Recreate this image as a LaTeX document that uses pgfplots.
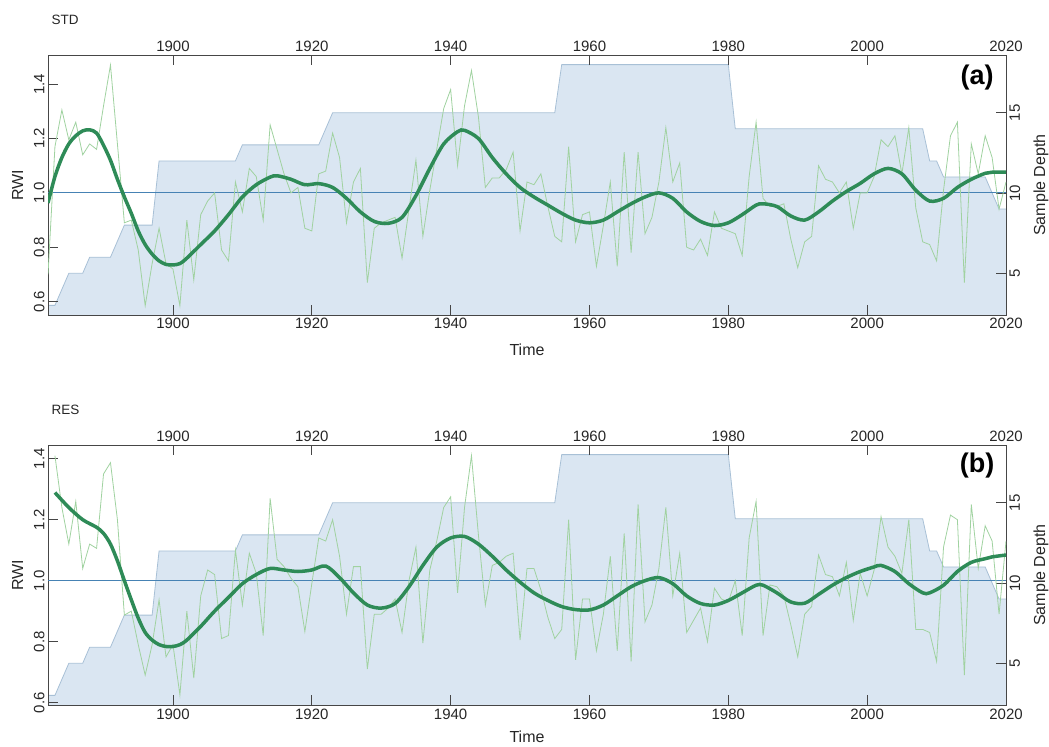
\documentclass[border=0pt]{standalone}
\usepackage{fontspec}
\setmainfont{Liberation Sans}
\usepackage{pgfplots}
\usepackage{pgfplotstable}
\pgfplotsset{compat=1.18}

\definecolor{depthfill}{RGB}{218,230,242}
\definecolor{depthline}{RGB}{168,192,214}
\definecolor{thingreen}{RGB}{160,210,160}
\definecolor{thickgreen}{RGB}{46,139,87}
\definecolor{refline}{RGB}{70,130,180}
\definecolor{frame}{RGB}{70,70,70}

\pgfplotstableread{
year depth
1882 3
1883 3
1884 4
1885 5
1886 5
1887 5
1888 6
1889 6
1890 6
1891 6
1892 7
1893 8
1894 8
1895 8
1896 8
1897 8
1898 12
1909 12
1910 13
1921 13
1922 14
1923 15
1955 15
1956 18
1980 18
1981 14
2008 14
2009 12
2010 12
2011 11
2017 11
2018 10
2019 9
2020 9
}\depthdata

\pgfplotstableread{
year rwi
1882 0.70
1883 1.17
1884 1.305
1885 1.195
1886 1.26
1887 1.14
1888 1.18
1889 1.16
1890 1.32
1891 1.47
1892 1.18
1893 0.89
1894 0.90
1895 0.79
1896 0.585
1897 0.74
1898 0.87
1899 0.74
1900 0.72
1901 0.585
1902 0.90
1903 0.68
1904 0.92
1905 0.97
1906 1.00
1907 0.79
1908 0.75
1909 1.04
1910 0.93
1911 1.09
1912 1.06
1913 0.90
1914 1.25
1915 1.16
1916 1.07
1917 1.00
1918 1.02
1919 0.87
1920 0.86
1921 1.07
1922 1.08
1923 1.22
1924 1.13
1925 0.89
1926 1.04
1927 1.09
1928 0.67
1929 0.87
1930 0.89
1931 0.90
1932 0.91
1933 0.76
1934 0.94
1935 1.12
1936 0.84
1937 1.01
1938 1.16
1939 1.31
1940 1.38
1941 1.10
1942 1.32
1943 1.45
1944 1.28
1945 1.02
1946 1.055
1947 1.055
1948 1.085
1949 1.15
1950 0.86
1951 1.04
1952 1.03
1953 1.07
1954 0.95
1955 0.84
1956 0.82
1957 1.17
1958 0.82
1959 0.92
1960 0.93
1961 0.73
1962 0.88
1963 1.04
1964 0.73
1965 1.15
1966 0.78
1967 1.15
1968 0.85
1969 0.91
1970 1.04
1971 1.24
1972 1.04
1973 1.11
1974 0.80
1975 0.79
1976 0.83
1977 0.77
1978 0.93
1979 0.87
1980 0.86
1981 0.85
1982 0.77
1983 1.06
1984 1.26
1985 0.98
1986 0.95
1987 0.95
1988 0.96
1989 0.83
1990 0.725
1991 0.82
1992 0.84
1993 1.10
1994 1.05
1995 1.04
1996 1.00
1997 1.04
1998 0.87
1999 1.00
2000 1.00
2001 1.06
2002 1.195
2003 1.17
2004 1.21
2005 1.07
2006 1.24
2007 0.945
2008 0.82
2009 0.81
2010 0.75
2011 1.01
2012 1.21
2013 1.26
2014 0.67
2015 1.18
2016 1.07
2017 1.21
2018 1.13
2019 0.94
2020 1.04
}\stdraw

\pgfplotstableread{
year rwi
1882 0.963
1883 1.06
1884 1.13
1885 1.18
1886 1.21
1887 1.228
1888 1.232
1889 1.22
1890 1.175
1891 1.12
1892 1.05
1893 0.985
1894 0.925
1895 0.86
1896 0.81
1897 0.775
1898 0.75
1899 0.737
1900 0.735
1901 0.74
1902 0.76
1904 0.81
1906 0.86
1908 0.92
1910 0.985
1912 1.03
1914 1.058
1915 1.063
1917 1.05
1919 1.03
1921 1.034
1923 1.02
1925 0.98
1927 0.93
1929 0.895
1931 0.888
1933 0.91
1935 0.99
1937 1.09
1939 1.18
1941 1.225
1942 1.23
1944 1.20
1946 1.13
1948 1.07
1950 1.02
1952 0.985
1954 0.955
1956 0.925
1958 0.90
1960 0.89
1962 0.90
1964 0.93
1966 0.96
1968 0.985
1970 1.0
1972 0.98
1974 0.93
1976 0.895
1978 0.88
1980 0.89
1982 0.92
1984 0.955
1985 0.96
1987 0.95
1989 0.915
1991 0.90
1993 0.93
1995 0.97
1997 1.005
1999 1.035
2001 1.07
2003 1.09
2005 1.07
2007 1.01
2009 0.97
2011 0.98
2013 1.02
2015 1.05
2017 1.072
2018 1.076
2020 1.076
}\stdspline

\pgfplotstableread{
year rwi
1883 1.41
1884 1.24
1885 1.12
1886 1.26
1887 1.04
1888 1.12
1889 1.106
1890 1.35
1891 1.387
1892 1.20
1893 0.887
1894 0.90
1895 0.79
1896 0.69
1897 0.79
1898 0.937
1899 0.75
1900 0.79
1901 0.625
1902 0.90
1903 0.68
1904 0.95
1905 1.035
1906 1.02
1907 0.81
1908 0.82
1909 1.10
1910 0.92
1911 1.09
1912 1.024
1913 0.82
1914 1.27
1915 1.07
1916 1.046
1917 1.008
1918 0.98
1919 0.833
1920 0.99
1921 1.14
1922 1.13
1923 1.20
1924 1.08
1925 0.89
1926 1.046
1927 1.046
1928 0.71
1929 0.89
1930 0.89
1931 0.91
1932 0.94
1933 0.83
1934 1.00
1935 1.11
1936 0.795
1937 1.035
1938 1.13
1939 1.24
1940 1.275
1941 0.96
1942 1.24
1943 1.41
1944 1.15
1945 0.92
1946 1.05
1947 1.06
1948 1.08
1949 1.09
1950 0.805
1951 1.04
1952 1.04
1953 0.97
1954 0.88
1955 0.81
1956 0.84
1957 1.20
1958 0.74
1959 0.94
1960 0.94
1961 0.77
1962 0.89
1963 1.08
1964 0.77
1965 1.155
1966 0.735
1967 1.25
1968 0.865
1969 0.92
1970 1.04
1971 1.24
1972 0.95
1973 1.09
1974 0.83
1975 0.87
1976 0.91
1977 0.80
1978 0.975
1979 0.94
1980 0.93
1981 1.00
1982 0.82
1983 1.14
1984 1.26
1985 0.82
1986 0.986
1987 0.98
1988 0.95
1989 0.855
1990 0.75
1991 0.89
1992 0.915
1993 1.084
1994 1.02
1995 1.013
1996 0.95
1997 1.06
1998 0.87
1999 1.024
2000 0.95
2001 1.035
2002 1.21
2003 1.11
2004 1.08
2005 1.024
2006 1.20
2007 0.84
2008 0.84
2009 0.83
2010 0.735
2011 1.11
2012 1.215
2013 1.20
2014 0.69
2015 1.25
2016 1.04
2017 1.18
2018 1.13
2019 0.89
2020 1.13
}\resraw

\pgfplotstableread{
year rwi
1883 1.289
1885 1.24
1887 1.20
1889 1.175
1890 1.155
1891 1.12
1892 1.065
1893 1.00
1894 0.937
1895 0.877
1896 0.83
1897 0.805
1898 0.79
1899 0.784
1900 0.784
1901 0.79
1902 0.805
1904 0.85
1906 0.90
1908 0.945
1910 0.99
1912 1.02
1914 1.04
1916 1.035
1918 1.03
1920 1.035
1922 1.048
1924 1.01
1926 0.96
1928 0.92
1930 0.91
1932 0.925
1934 0.98
1936 1.05
1938 1.11
1940 1.14
1942 1.145
1944 1.12
1946 1.08
1948 1.035
1950 0.995
1952 0.96
1954 0.935
1956 0.915
1958 0.905
1960 0.904
1962 0.92
1964 0.95
1966 0.98
1968 1.0
1970 1.01
1972 0.99
1974 0.95
1976 0.925
1978 0.92
1980 0.935
1982 0.96
1984 0.985
1985 0.985
1987 0.96
1989 0.93
1991 0.926
1993 0.955
1995 0.985
1997 1.01
1999 1.03
2001 1.045
2002 1.05
2004 1.03
2006 0.99
2008 0.96
2009 0.96
2011 0.985
2013 1.03
2015 1.06
2017 1.072
2018 1.078
2020 1.084
}\resspline

\pgfplotsset{
  base/.style={
    scale only axis, width=958bp, height=260bp,
    xmin=1882, xmax=2020,
    tick align=inside, major tick length=10bp,
    axis line style={draw=frame, line width=0.9bp},
    tick style={draw=frame, line width=0.9bp},
    xtick={1900,1920,1940,1960,1980,2000,2020},
    ticklabel style={font=\fontsize{15bp}{18bp}\selectfont, text=black!85},
    label style={font=\fontsize{16bp}{19bp}\selectfont, text=black!85},
    /pgf/number format/assume math mode=true,
    /pgf/number format/1000 sep={},
  },
  depthax/.style={
    base, ymin=2.4, ymax=18.6, axis on top,
    xtick pos=right, xticklabel pos=right,
    ytick pos=right, yticklabel pos=right, ytick={5,10,15},
    yticklabel style={rotate=90, anchor=north},
    xticklabel style={anchor=south},
    ylabel={Sample Depth},
    ylabel style={at={(axis description cs:1.0365,0.5)}, anchor=center},
  },
  rwiax/.style={
    base,
    xtick pos=left, xticklabel pos=left,
    ytick pos=left, yticklabel pos=left,
    ytick={0.6,0.8,1.0,1.2,1.4},
    yticklabel style={rotate=90, anchor=south,
      /pgf/number format/fixed, /pgf/number format/fixed zerofill,
      /pgf/number format/precision=1},
    xticklabel style={anchor=north},
    xlabel={Time},
    ylabel={RWI},
    ylabel style={at={(axis description cs:-0.0318,0.5)}, anchor=center},
  },
}

\begin{document}
\begin{tikzpicture}
% ---------- panel (a) ----------
\begin{axis}[depthax, at={(48bp,-55bp)}, anchor=north west]
  \addplot[draw=none, fill=depthfill] table[x=year,y=depth]{\depthdata} \closedcycle;
  \addplot[draw=depthline, line width=0.8bp] table[x=year,y=depth]{\depthdata};
\end{axis}
\begin{axis}[rwiax, name=top, at={(48bp,-55bp)}, anchor=north west, ymin=0.551, ymax=1.507,
    xlabel style={at={(axis description cs:0.5,-0.1346)}, anchor=center}]
  \addplot[refline, line width=1.2bp] coordinates {(1882,1) (2020,1)};
  \addplot[thingreen, line width=0.8bp] table[x=year,y=rwi]{\stdraw};
  \addplot[thickgreen, line width=3.5bp, smooth] table[x=year,y=rwi]{\stdspline};
\end{axis}
\node[anchor=west, yshift=35bp, font=\fontsize{13.5bp}{16bp}\selectfont, text=black!85] at (top.north west) {STD};
\node[xshift=-29bp, yshift=-23bp, font=\fontsize{27bp}{30bp}\selectfont\bfseries] at (top.north east) {(a)};

% ---------- panel (b) ----------
\begin{axis}[depthax, at={(48bp,-445bp)}, anchor=north west]
  \addplot[draw=none, fill=depthfill] table[x=year,y=depth]{\depthdata} \closedcycle;
  \addplot[draw=depthline, line width=0.8bp] table[x=year,y=depth]{\depthdata};
\end{axis}
\begin{axis}[rwiax, name=bot, at={(48bp,-445bp)}, anchor=north west, ymin=0.592, ymax=1.445,
    xlabel style={at={(axis description cs:0.5,-0.122)}, anchor=center}]
  \addplot[refline, line width=1.2bp] coordinates {(1882,1) (2020,1)};
  \addplot[thingreen, line width=0.8bp] table[x=year,y=rwi]{\resraw};
  \addplot[thickgreen, line width=3.5bp, smooth] table[x=year,y=rwi]{\resspline};
\end{axis}
\node[anchor=west, yshift=35bp, font=\fontsize{13.5bp}{16bp}\selectfont, text=black!85] at (bot.north west) {RES};
\node[xshift=-29bp, yshift=-21bp, font=\fontsize{27bp}{30bp}\selectfont\bfseries] at (bot.north east) {(b)};

\pgfresetboundingbox
\path[use as bounding box] (0,0) rectangle (1049bp,-747bp);
\end{tikzpicture}
\end{document}
